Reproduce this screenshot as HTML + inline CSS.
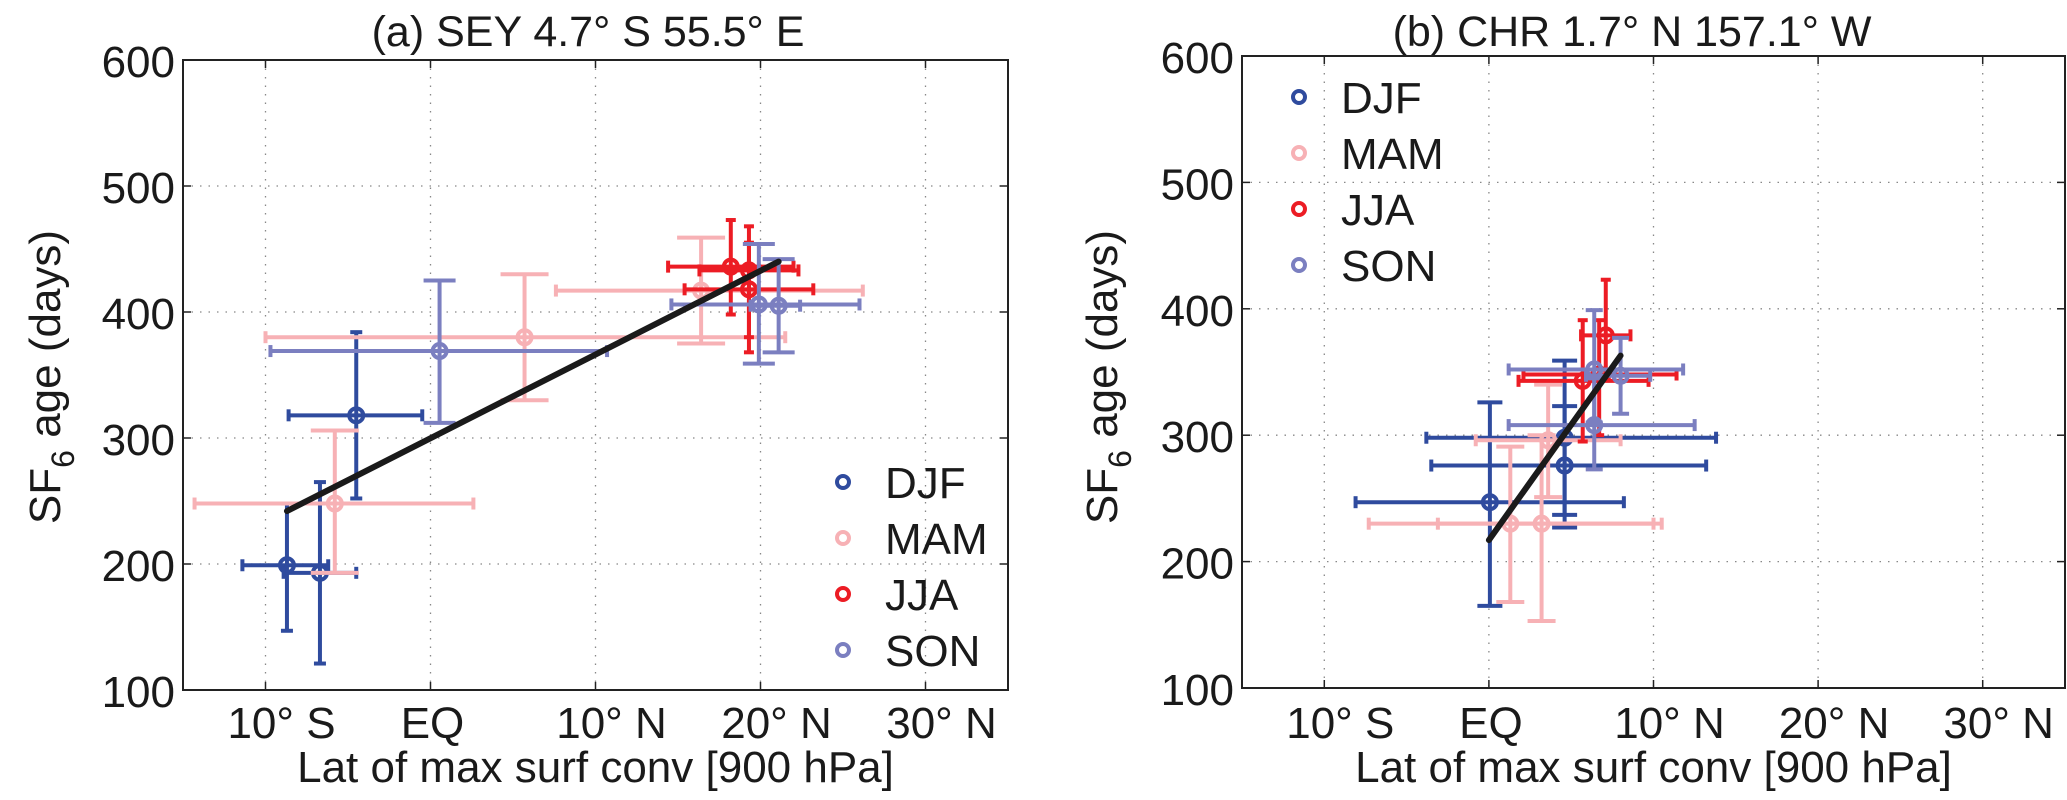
<!DOCTYPE html>
<html><head><meta charset="utf-8"><style>
html,body{margin:0;padding:0;background:#fff;}
svg text{font-family:"Liberation Sans",Arial,sans-serif;fill:#1a1a1a;}
</style></head><body>
<svg id="fig" width="2067" height="795" viewBox="0 0 2067 795" xmlns="http://www.w3.org/2000/svg"></svg>
<script>
// ---------- data ----------
const seasons = ["DJF","MAM","JJA","SON"];
const seasonColors = ["#2f4b9e","#f7b1b5","#ec1c24","#7b7fc0"];
const yTicks = [100,200,300,400,500,600];
const xTicks = [-10,0,10,20,30];
const xTickLabels = ["10° S","EQ","10° N","20° N","30° N"];
// panel a : per point season index, x, y, xlo, xhi, ylo, yhi
const aSeason = [0,0,0,1,1,1,2,2,2,3,3,3];
const aX   = [-8.7,-6.7,-4.5,-5.8,5.7,16.4,18.2,19.3,19.3,0.55,19.9,21.1];
const aY   = [199,193,318,248,380,417,436,418,433,369,406,405];
const aXlo = [-11.4,-8.9,-8.6,-14.3,-10.0,7.6,14.4,15.4,16.3,-9.7,14.6,19.4];
const aXhi = [-6.2,-4.5,-0.5,2.6,21.5,26.2,22.0,23.2,22.3,10.7,26.0,22.4];
const aYlo = [147,121,252,193,330,375,398,368,380,312,359,368];
const aYhi = [248,265,384,306,430,459,473,468,455,425,454,442];
const aFitX = [-8.7,21.1];
const aFitY = [242,440];
// panel b
const bSeason = [0,0,0,1,1,1,2,2,2,3,3,3];
const bX   = [0.06,4.6,4.6,1.3,3.2,3.6,7.1,5.7,6.7,6.4,8.0,6.4];
const bY   = [247,276,298,230,230,296,379,343,348,352,347,308];
const bXlo = [-8.1,-3.5,-3.8,-7.3,-3.1,-0.8,5.6,1.8,2.1,1.2,5.9,1.2];
const bXhi = [8.2,13.2,13.8,10.5,10.0,8.0,8.6,9.7,11.4,11.8,9.8,12.5];
const bYlo = [165,237,227,168,153,251,345,295,300,310,317,273];
const bYhi = [326,359,323,291,300,340,423,391,391,399,377,345];
const bFitX = [0.0,8.0];
const bFitY = [217,363];

// ---------- drawing ----------
const NS="http://www.w3.org/2000/svg";
const svg=document.getElementById('fig');
function mk(tag,attrs,parent){const e=document.createElementNS(NS,tag);for(const k in attrs)e.setAttribute(k,attrs[k]);(parent||svg).appendChild(e);return e;}

function panel(P){
  const g=mk('g',{});
  
  
  const sx=v=>P.L+(v-(-15))/(50)*(P.R-P.L);
  const sy=v=>P.B-(v-100)/500*(P.B-P.T);
  // grid
  xTicks.forEach((t,i)=>{
    const l=mk('line',{x1:sx(t),x2:sx(t),y1:P.T,y2:P.B,stroke:'#888','stroke-width':1.3,'stroke-dasharray':'1.5 7'},g);
    
    
    mk('line',{x1:sx(t),x2:sx(t),y1:P.B,y2:P.B-8,stroke:'#222','stroke-width':1.5},g);
    mk('line',{x1:sx(t),x2:sx(t),y1:P.T,y2:P.T+8,stroke:'#222','stroke-width':1.5},g);
    const tx=mk('text',{x:sx(t)+(i===1?2:16),y:738,'font-size':44,'text-anchor':'middle'},g);
    tx.textContent=xTickLabels[i];
    
    
  });
  yTicks.forEach(t=>{
    if(t>100&&t<600){
      const l=mk('line',{x1:P.L,x2:P.R,y1:sy(t),y2:sy(t),stroke:'#888','stroke-width':1.3,'stroke-dasharray':'1.5 7'},g);
      
      
    }
    mk('line',{x1:P.L,x2:P.L+8,y1:sy(t),y2:sy(t),stroke:'#222','stroke-width':1.5},g);
    mk('line',{x1:P.R,x2:P.R-8,y1:sy(t),y2:sy(t),stroke:'#222','stroke-width':1.5},g);
    const tx=mk('text',{x:P.L-8,y:sy(t)+17,'font-size':44,'text-anchor':'end'},g);
    tx.textContent=t;
    
    
  });
  // error bars and points
  for(let i=0;i<P.X.length;i++){
    const s=P.S[i], c=seasonColors[s], cw=P.capY[s]/2, ch=6;
    const eg=mk('g',{stroke:c,'stroke-width':4,fill:'none'},g);
    
    
    const x=sx(P.X[i]),y=sy(P.Y[i]);
    mk('line',{x1:sx(P.Xlo[i]),x2:sx(P.Xhi[i]),y1:y,y2:y},eg);
    mk('line',{x1:sx(P.Xlo[i]),x2:sx(P.Xlo[i]),y1:y-ch,y2:y+ch},eg);
    mk('line',{x1:sx(P.Xhi[i]),x2:sx(P.Xhi[i]),y1:y-ch,y2:y+ch},eg);
    mk('line',{x1:x,x2:x,y1:sy(P.Ylo[i]),y2:sy(P.Yhi[i])},eg);
    mk('line',{x1:x-cw,x2:x+cw,y1:sy(P.Ylo[i]),y2:sy(P.Ylo[i])},eg);
    mk('line',{x1:x-cw,x2:x+cw,y1:sy(P.Yhi[i]),y2:sy(P.Yhi[i])},eg);
    const m=mk('circle',{cx:x,cy:y,r:7,stroke:c,'stroke-width':4,fill:'none'},g);
    
    
  }
  // fit line
  const fl=mk('line',{x1:sx(P.fx[0]),y1:sy(P.fy[0]),x2:sx(P.fx[1]),y2:sy(P.fy[1]),stroke:'#1a1a1a','stroke-width':6,'stroke-linecap':'round'},g);
  
  
  // frame
  const fr=mk('rect',{x:P.L,y:P.T,width:P.R-P.L,height:P.B-P.T,fill:'none',stroke:'#222','stroke-width':2},g);
  
  
  // legend
  seasons.forEach((sn,k)=>{
    const lg=mk('g',{},g);
    
    
    mk('circle',{cx:P.legX,cy:P.legY+k*56,r:6,stroke:seasonColors[k],'stroke-width':4,fill:'none'},lg);
    const t=mk('text',{x:P.legX+42,y:P.legY+k*56+16,'font-size':44},lg);
    t.textContent=sn;
  });
  // title
  const ti=mk('text',{x:P.titleX,y:46,'font-size':43,'text-anchor':'middle'},g);
  ti.textContent=P.title;
  
  
  // x label
  const xl=mk('text',{x:(P.L+P.R)/2,y:782,'font-size':44,'text-anchor':'middle'},g);
  xl.textContent='Lat of max surf conv [900 hPa]';
  
  
  // y label
  const yl=mk('text',{x:0,y:0,'font-size':44,'text-anchor':'middle',transform:`translate(${P.ylX},377) rotate(-90)`},g);
  yl.innerHTML='SF<tspan dy="14" font-size="32">6</tspan><tspan dy="-14"> age (days)</tspan>';
  
  
}

panel({name:'panel-a-sey',L:183,R:1008,T:60,B:690,S:aSeason,X:aX,Y:aY,Xlo:aXlo,Xhi:aXhi,Ylo:aYlo,Yhi:aYhi,
  fx:aFitX,fy:aFitY,capY:[12,48,10,32],legX:843,legY:482,title:'(a) SEY 4.7° S 55.5° E',titleX:588,ylX:60});
panel({name:'panel-b-chr',L:1242,R:2065,T:56,B:688,S:bSeason,X:bX,Y:bY,Xlo:bXlo,Xhi:bXhi,Ylo:bYlo,Yhi:bYhi,
  fx:bFitX,fy:bFitY,capY:[25,28,10,17],legX:1299,legY:97,title:'(b) CHR 1.7° N 157.1° W',titleX:1632,ylX:1117});
</script>
</body></html>
